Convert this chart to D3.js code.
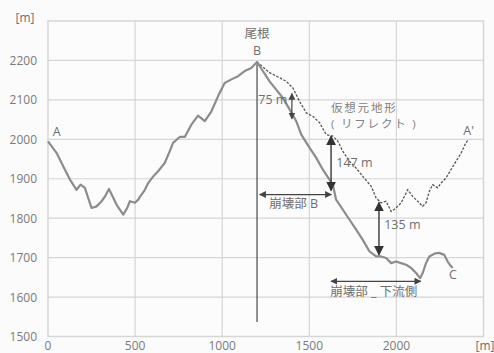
<!DOCTYPE html>
<html>
<head>
<meta charset="utf-8">
<script src="https://cdn.jsdelivr.net/npm/d3@7"></script>
<style>
  body { margin: 0; background: #fbfbfb; }
  svg text { font-family: "Open Sans", "Noto Sans CJK JP", sans-serif; fill: #6e6e6e; }
</style>
</head>
<body>
<svg id="chart" width="494" height="353"></svg>
<script>
const width = 494;
const height = 353;
const margin = { top: 21, right: 10.5, bottom: 16.5, left: 48 };

const xTicks = [0, 500, 1000, 1500, 2000];
const yTicks = [1500, 1600, 1700, 1800, 1900, 2000, 2100, 2200];

// measured profile A - B - C  [distance m, elevation m]
const profileDist = [0, 50, 88, 126, 164, 187, 212, 231, 250, 279, 308, 327, 350, 371, 394, 432, 455, 470, 499, 518, 537, 556, 575, 604, 632, 670, 699, 718, 756, 785, 823, 861, 900, 938, 976, 1014, 1053, 1091, 1129, 1167, 1200,
  1272, 1348, 1387, 1425, 1454, 1501, 1540, 1578, 1616, 1635, 1654, 1692, 1731, 1769, 1807, 1845, 1884, 1912, 1941, 1970, 1998, 2027, 2056, 2084, 2113, 2136, 2151, 2170, 2189, 2218, 2246, 2275, 2294, 2314, 2323];
const profileElev = [1995, 1965, 1931, 1898, 1872, 1885, 1877, 1851, 1826, 1830, 1843, 1855, 1874, 1855, 1834, 1809, 1826, 1843, 1839, 1847, 1860, 1872, 1889, 1906, 1919, 1940, 1970, 1991, 2006, 2006, 2037, 2060, 2046, 2071, 2109, 2143, 2152, 2160, 2173, 2181, 2196,
  2147, 2105, 2076, 2046, 2012, 1979, 1953, 1923, 1898, 1885, 1847, 1822, 1796, 1771, 1745, 1716, 1703, 1703, 1699, 1686, 1690, 1686, 1682, 1674, 1661, 1648, 1661, 1686, 1703, 1710, 1712, 1707, 1690, 1678, 1674];

// reflected original terrain B - A'
const reflectDist = [1200, 1272, 1330, 1368, 1406, 1444, 1483, 1521, 1559, 1597, 1635, 1664, 1692, 1731, 1769, 1807, 1855, 1884, 1912, 1941, 1970, 1998, 2027, 2056, 2065, 2094, 2122, 2151, 2170, 2189, 2208, 2237, 2256, 2285, 2313, 2342, 2371, 2399, 2413];
const reflectElev = [2196, 2169, 2156, 2147, 2130, 2096, 2067, 2058, 2042, 2012, 2008, 1995, 1970, 1944, 1927, 1906, 1881, 1851, 1839, 1843, 1817, 1826, 1839, 1864, 1872, 1855, 1843, 1830, 1839, 1868, 1885, 1877, 1889, 1902, 1923, 1944, 1965, 1991, 1999];

// annotations in data coordinates
const pointLabels = [
  { text: "A", x: 50, y: 2008 },
  { text: "B", x: 1200, y: 2215 },
  { text: "A'", x: 2415, y: 2012 },
  { text: "C", x: 2325, y: 1645 }
];
const vArrows = [
  { x: 1400, y1: 2116, y2: 2052, label: "75 m", lx: 1207, ly: 2089, anchor: "start", small: true },
  { x: 1625, y1: 2008, y2: 1870, label: "147 m", lx: 1655, ly: 1930, anchor: "start" },
  { x: 1900, y1: 1840, y2: 1707, label: "135 m", lx: 1930, ly: 1773, anchor: "start" }
];
const hArrows = [
  { y: 1860, x1: 1215, x2: 1627, label: "崩壊部 B", lx: 1270, ly: 1825 },
  { y: 1640, x1: 1625, x2: 2140, label: "崩壊部 _ 下流側", lx: 1870, ly: 1602 }
];
const reflectLabel = ["仮想元地形", "( リフレクト )"];

const svg = d3.select("#chart");

const x = d3.scaleLinear().domain([0, 2500]).range([margin.left, width - margin.right]);
const y = d3.scaleLinear().domain([1500, 2300]).range([height - margin.bottom, margin.top]);

svg.append("rect")
  .attr("x", x(0)).attr("y", y(2300))
  .attr("width", x(2500) - x(0)).attr("height", y(1500) - y(2300))
  .attr("fill", "#fcfcfc").attr("stroke", "#d6d6d6").attr("stroke-width", 1.5);

svg.append("g").selectAll("line").data(yTicks.slice(1)).join("line")
  .attr("x1", x(0)).attr("x2", x(2500))
  .attr("y1", d => y(d)).attr("y2", d => y(d))
  .attr("stroke", "#d6d6d6").attr("stroke-width", 1.2);

svg.append("g").selectAll("line").data(xTicks.slice(1)).join("line")
  .attr("x1", d => x(d)).attr("x2", d => x(d))
  .attr("y1", y(1500)).attr("y2", y(2300))
  .attr("stroke", "#d6d6d6").attr("stroke-width", 1.2);

svg.append("g").selectAll("text").data(yTicks).join("text")
  .attr("x", x(0) - 11).attr("y", d => y(d) + 4.5)
  .attr("text-anchor", "end").attr("font-size", 12)
  .style("fill", "#7a7a7a")
  .text(d => d);

svg.append("g").selectAll("text").data(xTicks).join("text")
  .attr("x", d => x(d)).attr("y", height - 3)
  .attr("text-anchor", "middle").attr("font-size", 12)
  .style("fill", "#7a7a7a")
  .text(d => d);

svg.append("text").attr("x", 25).attr("y", 22).attr("text-anchor", "middle").attr("font-size", 12).text("[m]");
svg.append("text").attr("x", 485).attr("y", height - 3).attr("text-anchor", "middle").attr("font-size", 12).text("[m]");

// ridge line from B
svg.append("line")
  .attr("x1", x(1200)).attr("x2", x(1200))
  .attr("y1", y(2196)).attr("y2", y(1537))
  .attr("stroke", "#555").attr("stroke-width", 1.3);

const line = d3.line().x(d => x(d[0])).y(d => y(d[1]));

svg.append("path")
  .datum(d3.zip(reflectDist, reflectElev))
  .attr("d", line)
  .attr("fill", "none").attr("stroke", "#555")
  .attr("stroke-width", 1.3).attr("stroke-dasharray", "2.5,1.5");

svg.append("path")
  .datum(d3.zip(profileDist, profileElev))
  .attr("d", line)
  .attr("fill", "none").attr("stroke", "#8c8c8c")
  .attr("stroke-width", 2.2).attr("stroke-linejoin", "round");

// arrow heads
const defs = svg.append("defs");
defs.append("marker").attr("id", "head")
  .attr("viewBox", "0 0 10 10").attr("refX", 9).attr("refY", 5)
  .attr("markerWidth", 7).attr("markerHeight", 7).attr("markerUnits", "userSpaceOnUse")
  .attr("orient", "auto-start-reverse")
  .append("path").attr("d", "M0,0L10,5L0,10Z").attr("fill", "#444");
defs.append("marker").attr("id", "headBig")
  .attr("viewBox", "0 0 10 10").attr("refX", 9).attr("refY", 5)
  .attr("markerWidth", 10).attr("markerHeight", 10).attr("markerUnits", "userSpaceOnUse")
  .attr("orient", "auto-start-reverse")
  .append("path").attr("d", "M0,0L10,5L0,10Z").attr("fill", "#333");

const va = svg.append("g").selectAll("g").data(vArrows).join("g");
va.append("line")
  .attr("x1", d => x(d.x)).attr("x2", d => x(d.x))
  .attr("y1", d => y(d.y1)).attr("y2", d => y(d.y2))
  .attr("stroke", "#444").attr("stroke-width", d => d.small ? 1.2 : 1.5)
  .attr("marker-start", d => d.small ? "url(#head)" : "url(#headBig)")
  .attr("marker-end", d => d.small ? "url(#head)" : "url(#headBig)");
va.append("text")
  .attr("x", d => x(d.lx)).attr("y", d => y(d.ly))
  .attr("text-anchor", d => d.anchor).attr("font-size", 12.5)
  .text(d => d.label);

const ha = svg.append("g").selectAll("g").data(hArrows).join("g");
ha.append("line")
  .attr("x1", d => x(d.x1)).attr("x2", d => x(d.x2))
  .attr("y1", d => y(d.y)).attr("y2", d => y(d.y))
  .attr("stroke", "#444").attr("stroke-width", 1.3)
  .attr("marker-start", "url(#head)").attr("marker-end", "url(#head)");
ha.append("text")
  .attr("x", d => x(d.lx)).attr("y", d => y(d.ly))
  .attr("text-anchor", d => d.lx < 1500 ? "start" : "middle").attr("font-size", 12.5)
  .text(d => d.label);

svg.append("g").selectAll("text").data(pointLabels).join("text")
  .attr("x", d => x(d.x)).attr("y", d => y(d.y))
  .attr("text-anchor", "middle").attr("font-size", 12.5)
  .text(d => d.text);

svg.append("text").attr("x", x(1200)).attr("y", 38).attr("text-anchor", "middle").attr("font-size", 12.5).text("尾根");
svg.append("g").selectAll("text").data(reflectLabel).join("text")
  .attr("x", 331).attr("y", (d, i) => 111.5 + i * 16)
  .attr("font-size", 11.5).attr("letter-spacing", 1.8)
  .style("fill", "#808080")
  .text(d => d);
</script>
</body>
</html>
